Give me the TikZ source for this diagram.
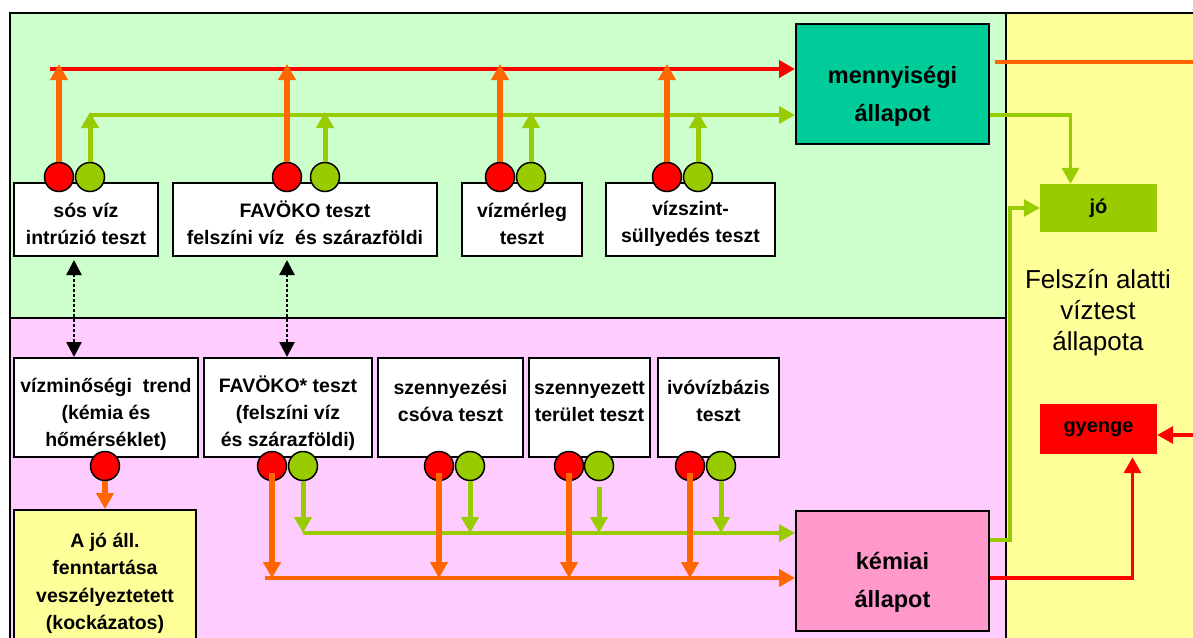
\documentclass[tikz,border=0pt]{standalone}
\usepackage{fontspec}
\setmainfont{Liberation Sans}
\usetikzlibrary{arrows.meta}

\definecolor{zoldhatter}{HTML}{CCFFCC}
\definecolor{rozsahatter}{HTML}{FFCCFF}
\definecolor{sargahatter}{HTML}{FFFF99}
\definecolor{piros}{HTML}{FF0000}
\definecolor{narancs}{HTML}{FF6600}
\definecolor{zold}{HTML}{99CC00}
\definecolor{turkiz}{HTML}{00CC99}
\definecolor{rozsa}{HTML}{FF99CC}

\tikzset{
  hatter/.style={draw=black, line width=2pt},
  tesztdoboz/.style={draw=black, line width=2pt, fill=white, align=center, inner sep=2pt,
    font=\fontsize{19.5}{27}\selectfont\bfseries},
  allapotdoboz/.style={draw=black, line width=2pt, align=center, minimum width=193pt,
    minimum height=120pt, font=\fontsize{23.5}{38}\selectfont\bfseries},
  eredmeny/.style={minimum width=117pt, inner sep=0pt, font=\fontsize{20}{24}\selectfont\bfseries},
  felirat/.style={align=center, font=\fontsize{26}{31}\selectfont},
  piroslampa/.style={circle, draw=black, line width=1.5pt, fill=piros, minimum size=29pt, inner sep=0pt},
  zoldlampa/.style={circle, draw=black, line width=1.5pt, fill=zold, minimum size=29pt, inner sep=0pt},
  nyilhegy/.style={-{Triangle[length=16pt,width=17pt]}},
  narancsnyil/.style={nyilhegy, draw=narancs, line width=5.5pt},
  zoldnyil/.style={nyilhegy, draw=zold, line width=5pt},
  pirosnyil/.style={nyilhegy, draw=piros, line width=4pt},
  zoldvonal/.style={nyilhegy, draw=zold, line width=3.5pt},
  narancsvonal/.style={nyilhegy, draw=narancs, line width=4pt},
  pontozott/.style={draw=black, line width=2.5pt, dash pattern=on 2.5pt off 2.5pt,
    {Triangle[length=15pt,width=15pt]}-{Triangle[length=15pt,width=15pt]}, shorten <=3pt}
}

\begin{document}
\begin{tikzpicture}[x=1pt, y=-1pt]
    \useasboundingbox (0,0) rectangle (1193,637);
    \clip (0,0) rectangle (1193,637);
    \fill[white] (0,0) rectangle (1193,637);

    % hatter sávok
    \draw[hatter, fill=sargahatter] (1006,13) rectangle (1210,660);
    \draw[hatter, fill=zoldhatter] (10,13) rectangle (1006,318);
    \draw[hatter, fill=rozsahatter] (10,318) rectangle (1006,660);

    % mennyiségi tesztek
    \node[tesztdoboz, minimum width=144pt, minimum height=73pt] (sos) at (86,219.5) {\rule{0pt}{23pt}sós víz\\intrúzió teszt};
    \node[tesztdoboz, minimum width=264pt, minimum height=73pt] (fav) at (305,219.5) {\rule{0pt}{23pt}FAVÖKO teszt\\felszíni víz\ \ és szárazföldi};
    \node[tesztdoboz, minimum width=120pt, minimum height=73pt] (merleg) at (522,219.5) {\rule{0pt}{23pt}vízmérleg\\teszt};
    \node[tesztdoboz, minimum width=169pt, minimum height=73pt] (szint) at (690.5,219.5) {\rule{0pt}{23pt}vízszint-\\süllyedés teszt};

    % kémiai tesztek
    \node[tesztdoboz, minimum width=184pt, minimum height=99pt] (trend) at (106,407.5) {\rule{0pt}{28pt}vízminőségi\ \ trend\\(kémia és\\hőmérséklet)};
    \node[tesztdoboz, minimum width=168pt, minimum height=99pt] (fav2) at (288,407.5) {\rule{0pt}{28pt}FAVÖKO* teszt\\(felszíni víz\\és szárazföldi)};
    \node[tesztdoboz, minimum width=145pt, minimum height=99pt] (csova) at (450.5,407.5) {\rule{0pt}{28pt}szennyezési\\csóva teszt\\\mbox{}};
    \node[tesztdoboz, minimum width=121pt, minimum height=99pt] (terulet) at (589.5,407.5) {\rule{0pt}{28pt}szennyezett\\terület teszt\\\mbox{}};
    \node[tesztdoboz, minimum width=121pt, minimum height=99pt] (ivoviz) at (718.5,407.5) {\rule{0pt}{28pt}ivóvízbázis\\teszt\\\mbox{}};
    \node[tesztdoboz, fill=sargahatter, minimum width=182pt, minimum height=136pt,
      font=\fontsize{19.5}{27.5}\selectfont\bfseries] (veszely) at (105,578) {\rule{0pt}{25pt}A jó áll.\\fenntartása\\veszélyeztetett\\(kockázatos)};

    % állapotok
    \node[allapotdoboz, fill=turkiz] (menny) at (892.5,84) {\rule{0pt}{42pt}mennyiségi\\állapot};
    \node[allapotdoboz, fill=rozsa] (kem) at (892.5,571) {\rule{0pt}{40pt}kémiai\\állapot};
    \node[eredmeny, fill=zold, minimum height=48pt] (jo) at (1098.5,208) {jó};
    \node[eredmeny, fill=piros, minimum height=50pt] (gy) at (1098.5,429) {gyenge};
    \node[felirat] (felszin) at (1098,313) {Felszín alatti\\víztest\\állapota};

    % lámpák felül
    \node[piroslampa] (sosP) at (59,177) {};
    \node[zoldlampa] (sosZ) at (90,177) {};
    \node[piroslampa] (favP) at (287,177) {};
    \node[zoldlampa] (favZ) at (325,177) {};
    \node[piroslampa] (merlegP) at (500,177) {};
    \node[zoldlampa] (merlegZ) at (531,177) {};
    \node[piroslampa] (szintP) at (667,177) {};
    \node[zoldlampa] (szintZ) at (698,177) {};

    % lámpák alul
    \node[piroslampa] (trendP) at (105,466) {};
    \node[piroslampa] (fav2P) at (272,466) {};
    \node[zoldlampa] (fav2Z) at (303,466) {};
    \node[piroslampa] (csovaP) at (439,466) {};
    \node[zoldlampa] (csovaZ) at (470,466) {};
    \node[piroslampa] (teruletP) at (569,466) {};
    \node[zoldlampa] (teruletZ) at (599,466) {};
    \node[piroslampa] (ivovizP) at (690,466) {};
    \node[zoldlampa] (ivovizZ) at (721,466) {};

    % gyűjtővonalak
    \coordinate (pirosgyujto) at (50,69);
    \coordinate (zoldgyujto) at (90,115);
    \coordinate (zoldgyujto2) at (303,533);
    \coordinate (narancsgyujto) at (265,578);
    \coordinate (kijarat1) at (1200,62);
    \coordinate (kijarat2) at (1200,435);
    \draw[pirosnyil] (pirosgyujto) -- (pirosgyujto -| menny.west);
    \draw[zoldvonal] (zoldgyujto) -- (zoldgyujto -| menny.west);
    \draw[zoldvonal] (zoldgyujto2) -- (zoldgyujto2 -| kem.west);
    \draw[narancsvonal] (narancsgyujto) -- (narancsgyujto -| kem.west);

    % felfelé nyilak
    \draw[narancsnyil] (sosP.north) -- ([yshift=5pt]sosP |- pirosgyujto);
    \draw[narancsnyil] (favP.north) -- ([yshift=5pt]favP |- pirosgyujto);
    \draw[narancsnyil] (merlegP.north) -- ([yshift=5pt]merlegP |- pirosgyujto);
    \draw[narancsnyil] (szintP.north) -- ([yshift=5pt]szintP |- pirosgyujto);
    \draw[zoldnyil] (sosZ.north) -- ([yshift=3pt]sosZ |- zoldgyujto);
    \draw[zoldnyil] (favZ.north) -- ([yshift=3pt]favZ |- zoldgyujto);
    \draw[zoldnyil] (merlegZ.north) -- ([yshift=3pt]merlegZ |- zoldgyujto);
    \draw[zoldnyil] (szintZ.north) -- ([yshift=3pt]szintZ |- zoldgyujto);

    % lefelé nyilak
    \draw[narancsnyil] (trendP.south) -- (veszely.north);
    \draw[narancsnyil] ([yshift=-7pt]fav2P.center) -- (fav2P |- narancsgyujto);
    \draw[narancsnyil] ([yshift=-7pt]csovaP.center) -- (csovaP |- narancsgyujto);
    \draw[narancsnyil] ([yshift=-7pt]teruletP.center) -- (teruletP |- narancsgyujto);
    \draw[narancsnyil] ([yshift=-7pt]ivovizP.center) -- (ivovizP |- narancsgyujto);
    \draw[zoldnyil] (fav2Z.south) -- (fav2Z |- zoldgyujto2);
    \draw[zoldnyil] (csovaZ.south) -- (csovaZ |- zoldgyujto2);
    \draw[zoldnyil, shorten <=6pt] (teruletZ.south) -- (teruletZ |- zoldgyujto2);
    \draw[zoldnyil] (ivovizZ.south) -- (ivovizZ |- zoldgyujto2);

    % kapcsolat a két sáv között
    \draw[pontozott] ([xshift=-12pt]sos.south) -- ([xshift=-12pt]sos.south |- trend.north);
    \draw[pontozott] ([xshift=-18pt]fav.south) -- ([xshift=-18pt]fav.south |- fav2.north);

    % eredmény felé
    \draw[draw=narancs, line width=4pt] ([xshift=5pt,yshift=22pt]menny.east) -- (kijarat1);
    \draw[zoldvonal] (menny.east |- zoldgyujto) -| ([xshift=-28pt]jo.north);
    \draw[zoldvonal] ([yshift=31pt]kem.east) -- ++(20,0) |- (jo.west);
    \draw[pirosnyil, line width=3.5pt, shorten >=3pt] ([yshift=-7pt]kem.east) -| ([xshift=34pt]gy.south);
    \draw[pirosnyil, line width=3.5pt] (kijarat2) -- ([yshift=-6pt]gy.east);
\end{tikzpicture}
\end{document}
